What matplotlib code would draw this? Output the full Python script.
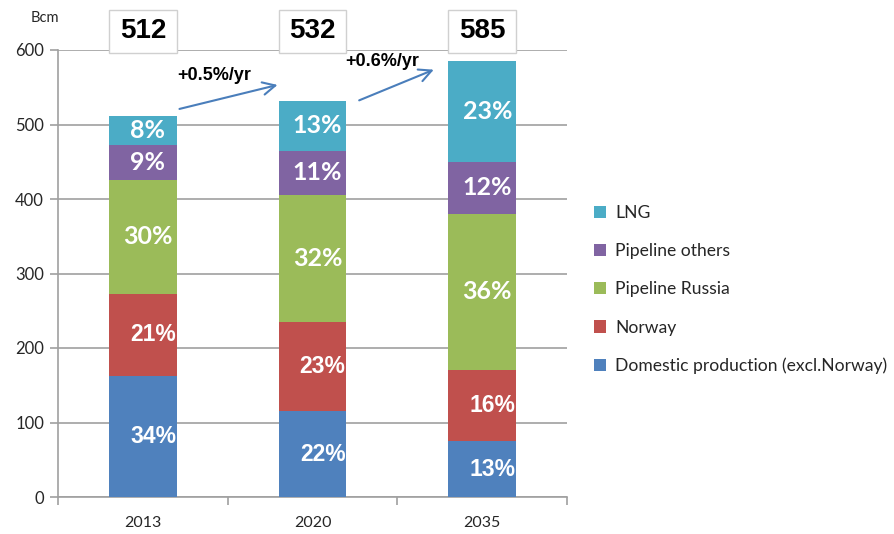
import matplotlib
matplotlib.use("Agg")
import matplotlib.pyplot as plt
from matplotlib.patches import Rectangle
import numpy as np

years = ["2013", "2020", "2035"]
totals = [512, 532, 585]
series = ["Domestic production (excl.Norway)", "Norway", "Pipeline Russia", "Pipeline others", "LNG"]
domestic = [163, 115, 75]
norway = [109, 120, 96]
russia = [154, 170, 209]
others = [46, 60, 70]
lng = [40, 67, 135]
pct_domestic = ["34%", "22%", "13%"]
pct_norway = ["21%", "23%", "16%"]
pct_russia = ["30%", "32%", "36%"]
pct_others = ["9%", "11%", "12%"]
pct_lng = ["8%", "13%", "23%"]
growth = ["+0.5%/yr", "+0.6%/yr"]
colors = ["#4F81BD", "#C0504D", "#9BBB59", "#8064A2", "#4BACC6"]
yticks = [0, 100, 200, 300, 400, 500, 600]

W, H = 894, 534
fig = plt.figure(figsize=(W / 100, H / 100), dpi=100)
ax = fig.add_axes([58 / W, 1 - 497 / H, (567 - 58) / W, (497 - 50) / H])

x = np.arange(len(years))
values = [domestic, norway, russia, others, lng]
labels = [pct_domestic, pct_norway, pct_russia, pct_others, pct_lng]
narrow = [True, True, False, False, False]
bottom = np.zeros(len(years))
bw = 0.40
handles = []
for vals, lab, col, name, nar in zip(values, labels, colors, series, narrow):
    b = ax.bar(x, vals, bw, bottom=bottom, color=col, label=name, zorder=3, linewidth=0)
    handles.append(b)
    for i in range(len(years)):
        yc = bottom[i] + vals[i] / 2
        if nar:
            ax.text(x[i] + 0.06, yc, lab[i], ha="center", va="center", color="white",
                    fontsize=16.5, fontweight="bold", family=["Liberation Sans", "DejaVu Sans"], zorder=4)
        else:
            ax.text(x[i] + 0.03, yc, lab[i], ha="center", va="center", color="white",
                    fontsize=18, fontweight="bold", family=["Lato", "DejaVu Sans"], zorder=4)
    bottom += np.array(vals)

ax.set_xlim(-0.5, 2.5)
ax.set_ylim(0, 600)
ax.set_yticks(yticks)
ax.set_yticklabels([str(t) for t in yticks])
ax.set_xticks(x)
ax.set_xticklabels(years)
ax.set_xticks([-0.5, 0.5, 1.5, 2.5], minor=True)
ax.tick_params(axis="x", which="major", length=0, pad=14, labelsize=11.5, labelcolor="#262626")
ax.tick_params(axis="x", which="minor", length=6, color="#A0A0A0", width=1.2)
ax.tick_params(axis="y", length=6, color="#A0A0A0", width=1.2, labelsize=12, labelcolor="#262626", pad=4)
for lbl in ax.get_xticklabels() + ax.get_yticklabels():
    lbl.set_family(["Lato", "DejaVu Sans"])
ax.yaxis.grid(True, color="#A0A0A0", linewidth=1.2, zorder=0)
ax.set_axisbelow(True)
for s in ["top", "right"]:
    ax.spines[s].set_visible(False)
for s in ["left", "bottom"]:
    ax.spines[s].set_color("#A0A0A0")
    ax.spines[s].set_linewidth(1.2)

# total boxes
for i, t in enumerate(totals):
    r = Rectangle((x[i] - bw / 2, 596), bw, 58, facecolor="white", edgecolor="#D0D0D0",
                  linewidth=1, clip_on=False, zorder=5)
    ax.add_patch(r)
    ax.text(x[i], 625, str(t), ha="center", va="center", fontsize=20, fontweight="bold",
            family=["Liberation Sans", "DejaVu Sans"], zorder=6, clip_on=False)

# growth arrows
arrow_pts = [((0.20, 520), (0.81, 554)), ((1.26, 531), (1.73, 575))]
text_pts = [(0.20, 566), (1.195, 585)]
for g, (p0, p1), tp in zip(growth, arrow_pts, text_pts):
    ax.annotate("", xy=p1, xytext=p0, annotation_clip=False,
                arrowprops=dict(arrowstyle="->,head_length=0.9,head_width=0.45", color="#4A7EBB", lw=1.5),
                zorder=7)
    ax.text(tp[0], tp[1], g, ha="left", va="center", fontsize=13, fontweight="bold",
            family=["Liberation Sans", "DejaVu Sans"], zorder=8, clip_on=False)

fig.text(45 / W, 1 - 18 / H, "Bcm", ha="center", va="center", fontsize=10.5,
         family=["Lato", "DejaVu Sans"], color="#262626")

leg = fig.legend(handles[::-1], series[::-1], loc="upper left", bbox_to_anchor=(594 / W, 1 - 205 / H),
                 frameon=False, handlelength=0.7, handleheight=0.7, handletextpad=0.5,
                 labelspacing=1.27, borderpad=0, borderaxespad=0,
                 prop={"family": ["Lato", "DejaVu Sans"], "size": 12.6})
for t in leg.get_texts():
    t.set_color("#262626")

fig.savefig("out.png", dpi=100)
